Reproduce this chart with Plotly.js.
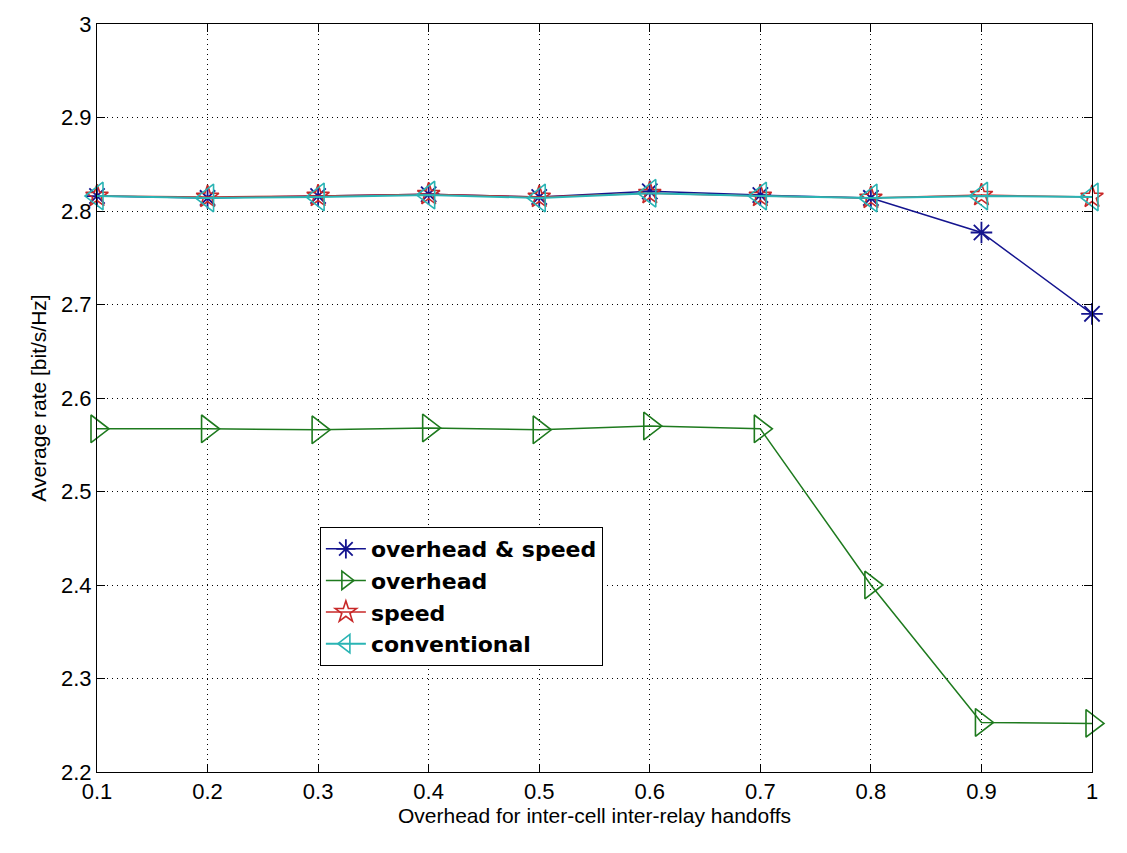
<!DOCTYPE html>
<html><head><meta charset="utf-8">
<script src="https://cdn.plot.ly/plotly-3.0.1.min.js"></script>
<style>html,body{margin:0;padding:0;background:#fff}</style>
</head><body><div id="plot" style="width:1127px;height:853px"></div>
<script>
const xVals = [0.1, 0.2, 0.3, 0.4, 0.5, 0.6, 0.7, 0.8, 0.9, 1.0];
const overheadSpeed = [2.816, 2.814, 2.816, 2.818, 2.815, 2.821, 2.817, 2.814, 2.777, 2.690];
const overhead = [2.567, 2.567, 2.566, 2.568, 2.566, 2.570, 2.567, 2.400, 2.253, 2.252];
const speed = [2.816, 2.815, 2.816, 2.818, 2.815, 2.819, 2.816, 2.814, 2.817, 2.815];
const conventional = [2.816, 2.814, 2.815, 2.817, 2.814, 2.819, 2.816, 2.814, 2.816, 2.815];
const seriesNames = ['overhead & speed', 'overhead', 'speed', 'conventional'];
const xTicks = [0.1, 0.2, 0.3, 0.4, 0.5, 0.6, 0.7, 0.8, 0.9, 1];
const xTickText = ['0.1','0.2','0.3','0.4','0.5','0.6','0.7','0.8','0.9','1'];
const yTicks = [2.2, 2.3, 2.4, 2.5, 2.6, 2.7, 2.8, 2.9, 3];
const yTickText = ['2.2','2.3','2.4','2.5','2.6','2.7','2.8','2.9','3'];

const traces = [
  {x: xVals, y: overheadSpeed, name: seriesNames[0], mode: 'lines+markers', cliponaxis: false,
   line: {color: '#14148f', width: 1.5},
   marker: {symbol: 'asterisk-open', size: 18, line: {color: '#14148f', width: 1.8}}},
  {x: xVals, y: overhead, name: seriesNames[1], mode: 'lines+markers', cliponaxis: false,
   line: {color: '#1e7a1e', width: 1.5},
   marker: {symbol: 'triangle-right-open', size: 24, color: '#1e7a1e', line: {color: '#1e7a1e', width: 1.6}}},
  {x: xVals, y: speed, name: seriesNames[2], mode: 'lines+markers', cliponaxis: false,
   line: {color: '#c82828', width: 1.5},
   marker: {symbol: 'star-open', size: 17, color: '#c82828', line: {color: '#c82828', width: 1.6}}},
  {x: xVals, y: conventional, name: seriesNames[3], mode: 'lines+markers', cliponaxis: false,
   line: {color: '#2ab4b4', width: 2},
   marker: {symbol: 'triangle-left-open', size: 24, color: '#2ab4b4', line: {color: '#2ab4b4', width: 1.6}}}
];

const axisCommon = {
  showgrid: true, gridcolor: '#000', griddash: '1px,4px', gridwidth: 1,
  showline: true, linecolor: '#000', linewidth: 1, mirror: 'ticks',
  ticks: 'inside', ticklen: 8, tickcolor: '#000', zeroline: false,
  tickfont: {family: 'Liberation Sans, Arial, sans-serif', size: 22, color: '#000'}
};

const layout = {
  width: 1127, height: 853,
  margin: {l: 97, r: 35, t: 24, b: 81},
  paper_bgcolor: '#fff', plot_bgcolor: '#fff',
  showlegend: true,
  xaxis: Object.assign({}, axisCommon, {
    range: [0.1, 1], tickmode: 'array', tickvals: xTicks, ticktext: xTickText,
    title: {text: 'Overhead for inter-cell inter-relay handoffs', standoff: 2,
            font: {family: 'Liberation Sans, Arial, sans-serif', size: 21, color: '#000'}}
  }),
  yaxis: Object.assign({}, axisCommon, {
    range: [2.2, 3], tickmode: 'array', tickvals: yTicks, ticktext: yTickText,
    title: {text: 'Average rate [bit/s/Hz]', standoff: 8,
            font: {family: 'Liberation Sans, Arial, sans-serif', size: 21, color: '#000'}}
  }),
  legend: {
    x: 0.224, y: 0.3275, xanchor: 'left', yanchor: 'top',
    bgcolor: '#fff', bordercolor: '#000', borderwidth: 1,
    font: {family: 'DejaVu Sans, sans-serif', size: 22, color: '#000', weight: 'bold'},
    itemwidth: 40, tracegroupgap: 0
  }
};

Plotly.newPlot('plot', traces, layout, {displayModeBar: false, staticPlot: true});
</script>
</body></html>
